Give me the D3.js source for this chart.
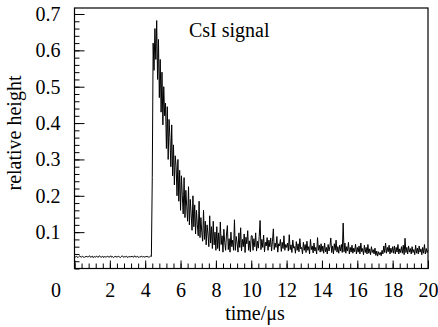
<!DOCTYPE html>
<html>
<head>
<meta charset="utf-8">
<script src="https://cdn.jsdelivr.net/npm/d3@7/dist/d3.min.js"></script>
<style>
  body { margin: 0; background: #fff; }
  svg text { font-family: "Liberation Serif", "Times New Roman", serif; fill: #000; }
</style>
</head>
<body>
<div id="chart"></div>
<script>
// samples every 0.05 us
const sampleStep = 0.05;

// 0.00 - 4.35 us, flat pedestal before the trigger
const preTrigger = [
  .033,.031,.034,.032,.030,.033,.035,.032,.031,.034,
  .032,.030,.033,.032,.034,.031,.033,.035,.031,.032,
  .034,.030,.032,.033,.031,.034,.032,.031,.035,.033,
  .031,.032,.034,.030,.033,.032,.031,.034,.033,.031,
  .032,.035,.031,.033,.030,.032,.034,.031,.033,.032,
  .034,.031,.030,.033,.035,.032,.031,.033,.032,.034,
  .030,.032,.033,.031,.034,.032,.033,.031,.035,.032,
  .031,.034,.032,.030,.033,.032,.034,.031,.033,.032,
  .031,.034,.032,.033,.031,.032,.034,.033
];

// 4.40 - 8.00 us, rise and fast decay
const pulse = [
  .250,.620,.545,.660,.575,.682,.520,.630,.470,.575,
  .430,.540,.395,.500,.420,.455,.330,.445,.300,.410,
  .360,.280,.395,.255,.340,.230,.310,.280,.200,.300,
  .185,.270,.160,.255,.200,.150,.250,.140,.215,.170,
  .130,.225,.120,.190,.150,.105,.200,.115,.175,.095,
  .160,.120,.090,.185,.085,.140,.100,.075,.160,.080,
  .130,.065,.120,.095,.060,.145,.070,.115,.055,.130,
  .065,.100,.050
];

// 8.05 - 20.00 us, noisy tail
const tail = [
  .115,.055,.098,.048,.128,.066,.090,.045,.108,.072,.050,.095,.118,.052,.082,.045,.100,.060,.078,.050,
  .134,.050,.088,.070,.045,.098,.058,.112,.048,.080,.060,.095,.044,.086,.068,.104,.050,.076,.046,.090,
  .090,.050,.082,.060,.098,.048,.075,.056,.088,.132,.052,.080,.058,.092,.046,.072,.062,.085,.050,.078,
  .060,.084,.048,.075,.109,.052,.070,.058,.088,.045,.068,.062,.080,.047,.072,.055,.090,.050,.066,.058,
  .070,.048,.093,.052,.065,.044,.078,.056,.060,.042,.074,.050,.068,.046,.082,.054,.058,.040,.072,.050,
  .066,.044,.075,.050,.060,.040,.080,.052,.062,.043,.070,.048,.058,.040,.085,.050,.064,.045,.068,.047,
  .062,.042,.070,.046,.058,.040,.066,.048,.060,.084,.044,.062,.040,.068,.050,.078,.045,.060,.042,.064,
  .048,.066,.044,.125,.046,.070,.042,.060,.048,.072,.040,.058,.045,.064,.042,.056,.046,.067,.040,.058,
  .045,.062,.040,.070,.046,.055,.038,.064,.044,.058,.040,.066,.042,.054,.038,.060,.044,.052,.040,.056,
  .036,.048,.034,.046,.038,.044,.035,.050,.040,.062,.044,.070,.042,.058,.046,.064,.040,.056,.044,.060,
  .042,.062,.040,.058,.045,.066,.040,.054,.044,.060,.042,.064,.038,.083,.044,.058,.040,.062,.045,.055,
  .040,.060,.044,.052,.038,.064,.042,.056,.040,.062,.045,.054,.038,.058,.042,.066,.040,.055,.044,.050
];

const xTicks = [0, 2, 4, 6, 8, 10, 12, 14, 16, 18, 20];
const yTicks = [0.1, 0.2, 0.3, 0.4, 0.5, 0.6, 0.7];

const width = 438, height = 327;
const plotLeft = 74.5, plotRight = 428, plotTop = 8, plotBottom = 268.5;

const signal = preTrigger.concat(pulse, tail)
  .map((v, i) => ({t: i * sampleStep, v: v}));

const svg = d3.select("#chart").append("svg")
  .attr("width", width)
  .attr("height", height);

const x = d3.scaleLinear().domain([0, 20]).range([plotLeft, plotRight]);
const y = d3.scaleLinear().domain([0, 0.7165]).range([plotBottom, plotTop]);

// trace
svg.append("path")
  .datum(signal)
  .attr("fill", "none")
  .attr("stroke", "#000")
  .attr("stroke-width", 1)
  .attr("d", d3.line().x(d => x(d.t)).y(d => y(d.v)));

// minor ticks
svg.append("g")
  .attr("transform", `translate(0,${plotBottom})`)
  .call(d3.axisBottom(x).tickValues(d3.range(0, 20.001, 0.4)).tickSize(-5).tickFormat(""))
  .call(g => g.select(".domain").remove());

svg.append("g")
  .attr("transform", `translate(${plotLeft},0)`)
  .call(d3.axisLeft(y).tickValues(d3.range(0, 0.7001, 0.02)).tickSize(-5).tickFormat(""))
  .call(g => g.select(".domain").remove());

// major ticks + labels
const xAxis = svg.append("g")
  .attr("transform", `translate(0,${plotBottom})`)
  .call(d3.axisBottom(x).tickValues(xTicks).tickSize(-8).tickPadding(14).tickFormat(d3.format("d")))
  .call(g => g.select(".domain").remove());
xAxis.selectAll("text").style("font-size", "20px")
  .attr("dx", d => d === 0 ? -19 : 0);

const yAxis = svg.append("g")
  .attr("transform", `translate(${plotLeft},0)`)
  .call(d3.axisLeft(y).tickValues(yTicks).tickSize(-10).tickPadding(14).tickFormat(d3.format(".1f")))
  .call(g => g.select(".domain").remove());
yAxis.selectAll("text").style("font-size", "20px");

svg.selectAll(".tick line").attr("stroke", "#000");

// frame
svg.append("rect")
  .attr("x", plotLeft).attr("y", plotTop)
  .attr("width", plotRight - plotLeft).attr("height", plotBottom - plotTop)
  .attr("fill", "none")
  .attr("stroke", "#000")
  .attr("stroke-width", 1.2);

svg.append("text")
  .attr("x", 189).attr("y", 37)
  .style("font-size", "20px")
  .text("CsI signal");

svg.append("text")
  .attr("x", 255).attr("y", 319.5)
  .attr("text-anchor", "middle")
  .style("font-size", "20px")
  .text("time/μs");

svg.append("text")
  .attr("transform", "translate(21,133) rotate(-90)")
  .attr("text-anchor", "middle")
  .style("font-size", "20px")
  .text("relative height");
</script>
</body>
</html>
